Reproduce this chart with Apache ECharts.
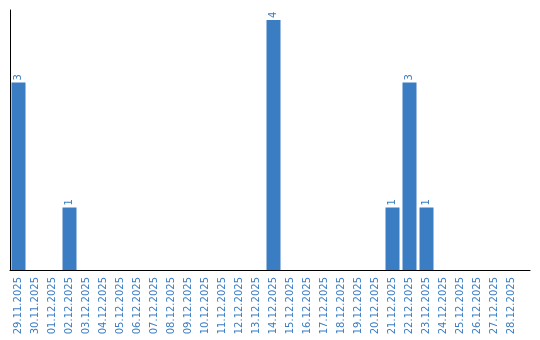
<!DOCTYPE html>
<html><head><meta charset="utf-8">
<script src="https://cdn.jsdelivr.net/npm/echarts@6/dist/echarts.min.js"></script>
<style>html,body{margin:0;padding:0;background:#fff}#c{width:540px;height:340px}</style>
</head><body><div id="c"></div>
<script>
const categories = ["29.11.2025","30.11.2025","01.12.2025","02.12.2025","03.12.2025","04.12.2025","05.12.2025","06.12.2025","07.12.2025","08.12.2025","09.12.2025","10.12.2025","11.12.2025","12.12.2025","13.12.2025","14.12.2025","15.12.2025","16.12.2025","17.12.2025","18.12.2025","19.12.2025","20.12.2025","21.12.2025","22.12.2025","23.12.2025","24.12.2025","25.12.2025","26.12.2025","27.12.2025","28.12.2025"];
const values = [3,0,0,1,0,0,0,0,0,0,0,0,0,0,0,4,0,0,0,0,0,0,1,3,1,0,0,0,0,0];
const color = '#3b7dc3';
const chart = echarts.init(document.getElementById('c'), null, {renderer:'canvas'});
chart.setOption({
  animation:false,
  grid:[
    {left:10, top:10, width:510, height:260},
    {left:10, top:10, width:520, height:260}
  ],
  xAxis:[
    {type:'category', data:categories, gridIndex:0,
     axisLine:{show:false}, axisTick:{show:false},
     axisLabel:{rotate:90, interval:0, color:color, fontFamily:'DejaVu Sans', fontSize:10, margin:7}},
    {type:'value', gridIndex:1, min:0, max:1, axisLine:{show:true, lineStyle:{color:'#000', width:1}},
     axisTick:{show:false}, axisLabel:{show:false}, splitLine:{show:false}}
  ],
  yAxis:[
    {type:'value', gridIndex:0, min:0, max:4.16, axisLine:{show:true, lineStyle:{color:'#000', width:1}},
     axisTick:{show:false}, axisLabel:{show:false}, splitLine:{show:false}},
    {type:'value', gridIndex:1, show:false, min:0, max:1}
  ],
  series:[{
    type:'bar', data:values.map(v => v === 0 ? null : v), xAxisIndex:0, yAxisIndex:0,
    barWidth:14, itemStyle:{color:color},
    label:{show:true, position:'top', rotate:90, align:'left', verticalAlign:'middle', distance:2,
      color:color, fontFamily:'DejaVu Sans', fontSize:10}
  }]
});
</script></body></html>
